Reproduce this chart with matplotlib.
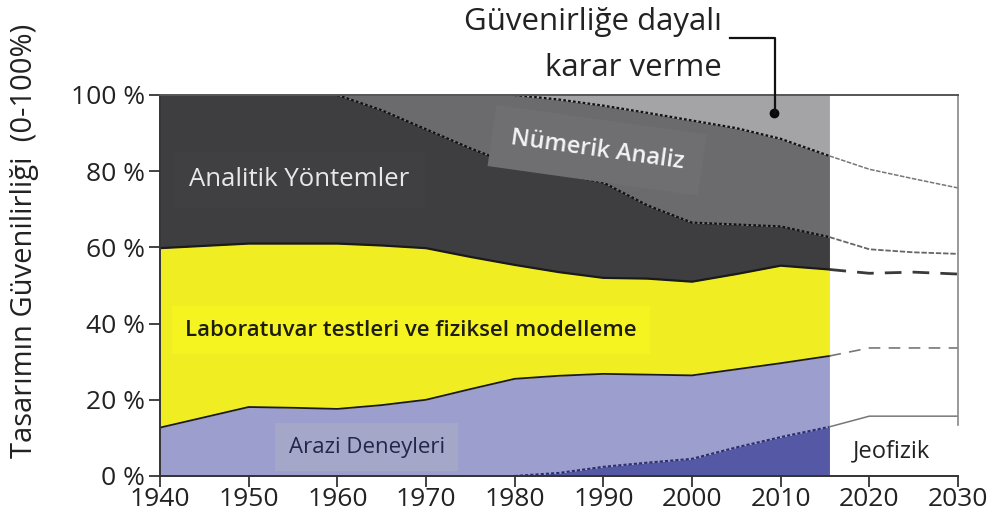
import numpy as np
import matplotlib.pyplot as plt

plt.rcParams['font.family'] = ['Open Sans', 'DejaVu Sans']

# years with data (shaded part ends around 2015.5)
years = [1940, 1945, 1950, 1955, 1960, 1965, 1970, 1975, 1980, 1985, 1990, 1995, 2000, 2005, 2010, 2015.5]

# cumulative top of each band (%)
jeofizik = [0, 0, 0, 0, 0, 0, 0, 0, 0, 0.8, 2.4, 3.5, 4.5, 7.5, 10.2, 12.9]
arazi = [12.7, 15.4, 18.1, 17.9, 17.6, 18.6, 20, 22.8, 25.5, 26.3, 26.8, 26.6, 26.4, 28, 29.6, 31.5]
laboratuvar = [59.8, 60.4, 61, 61, 61, 60.5, 59.8, 57.5, 55.4, 53.5, 52, 51.8, 51, 53, 55.2, 54.2]
analitik = [100, 100, 100, 100, 100, 96, 91, 86, 81.5, 79.5, 77, 71, 66.5, 66, 65.5, 62.7]
numerik = [100, 100, 100, 100, 100, 100, 100, 100, 100, 98.8, 97.2, 95.3, 93.3, 91.3, 88.5, 84]

# projections to 2030
proj_years = [2015.5, 2020, 2025, 2030]
proj_numerik = [84, 80.5, 78, 75.6]
proj_analitik = [62.7, 59.5, 58.7, 58.3]
proj_lab = [54.2, 53.2, 53.5, 53]
proj_arazi = [31.5, 33.6, 33.6, 33.6]
proj_jeofizik = [12.9, 15.7, 15.7, 15.7]

xticks = [1940, 1950, 1960, 1970, 1980, 1990, 2000, 2010, 2020, 2030]
yticks = [0, 20, 40, 60, 80, 100]

c_karar = '#a4a4a6'
c_num = '#6b6b6d'
c_ana = '#3e3e40'
c_lab = '#f0ee22'
c_ara = '#9c9ecd'
c_jeo = '#5558a4'

fig = plt.figure(figsize=(9.97, 5.23), dpi=100)
ax = fig.add_axes([0.1605, 0.0899, 0.8004, 0.7285])

y0 = np.zeros(len(years))
full = np.full(len(years), 100)
ax.fill_between(years, y0, jeofizik, color=c_jeo, lw=0)
ax.fill_between(years, jeofizik, arazi, color=c_ara, lw=0)
ax.fill_between(years, arazi, laboratuvar, color=c_lab, lw=0)
ax.fill_between(years, laboratuvar, analitik, color=c_ana, lw=0)
ax.fill_between(years, analitik, numerik, color=c_num, lw=0)
ax.fill_between(years, numerik, full, color=c_karar, lw=0)

# boundary lines
ax.plot(years[8:], jeofizik[8:], color='#2a2d6e', lw=1.5, ls=(0, (1.5, 1)))
ax.plot(years, arazi, color='#1a1a1a', lw=1.3)
ax.plot(years, laboratuvar, color='#1a1a1a', lw=1.6)
ax.plot(years[4:], analitik[4:], color='#111111', lw=1.6, ls=(0, (1.2, 1)))
ax.plot(years[8:], numerik[8:], color='#111111', lw=1.6, ls=(0, (1.2, 1)))

# projections
ax.plot(proj_years, proj_numerik, color='#777777', lw=1.1, ls=(0, (3, 1)))
ax.plot(proj_years, proj_analitik, color='#666666', lw=1.3, ls=(0, (3, 1)))
ax.plot(proj_years, proj_lab, color='#3a3a3a', lw=2.0, ls=(0, (6, 4)))
ax.plot(proj_years, proj_arazi, color='#777777', lw=1.2, ls=(0, (7, 5)))
ax.plot(proj_years, proj_jeofizik, color='#777777', lw=1.1)

ax.set_xlim(1940, 2030)
ax.set_ylim(0, 100)
ax.set_xticks(xticks)
ax.set_yticks(yticks)
ax.set_yticklabels([f'{v} %' for v in yticks])
ax.tick_params(axis='both', labelsize=19, colors='#222222', length=8, width=1.2, pad=3)
ax.tick_params(axis='x', pad=0)
for s in ['left', 'bottom', 'top']:
    ax.spines[s].set_color('#333333')
    ax.spines[s].set_linewidth(1.4)
ax.spines['top'].set_color('#555555')
ax.spines['right'].set_bounds(13.5, 100)
ax.spines['right'].set_color('#888888')
ax.spines['right'].set_linewidth(1.2)
fig.text(25 / 997, 1 - 241 / 523, 'Tasarımın Güvenilirliği  (0-100%)', fontsize=21, color='#222222',
         rotation=90, ha='center', va='center')

# band labels
ax.text(1943.3, 77.7, 'Analitik Yöntemler', fontsize=18.5, color='#e8e8e8', va='center',
        bbox=dict(boxstyle='square,pad=0.6', fc='#404042', ec='none'))
ax.text(1989.3, 85.5, 'Nümerik Analiz', fontsize=17, color='#f4f4f4', va='center', ha='center',
        rotation=-8, fontweight='semibold',
        bbox=dict(boxstyle='square,pad=0.8', fc='#6f6f71', ec='none'))
ax.text(1942.8, 38.3, 'Laboratuvar testleri ve fiziksel modelleme', fontsize=16, color='#1e1e10',
        va='center', fontweight='semibold',
        bbox=dict(boxstyle='square,pad=0.6', fc='#f6f420', ec='none'))
ax.text(1954.5, 7.6, 'Arazi Deneyleri', fontsize=16, color='#23264a', va='center',
        bbox=dict(boxstyle='square,pad=0.6', fc='#a4a7c8', ec='none'))
ax.text(2022.5, 6.5, 'Jeofizik', fontsize=17, color='#222222', va='center', ha='center')

# callout
fig.text(722 / 997, 1 - 22 / 523, 'Güvenirliğe dayalı', fontsize=22.5, color='#222222', ha='right', va='center')
fig.text(722 / 997, 1 - 68 / 523, 'karar verme', fontsize=22.5, color='#222222', ha='right', va='center')
fig.add_artist(plt.Line2D([730 / 997, 775 / 997, 775 / 997], [1 - 38 / 523, 1 - 38 / 523, 1 - 113 / 523],
                          color='#111111', lw=1.6))
ax.plot([2009.3], [95.2], 'o', color='#0a0a0a', ms=6)

fig.savefig('out.png', dpi=100)
